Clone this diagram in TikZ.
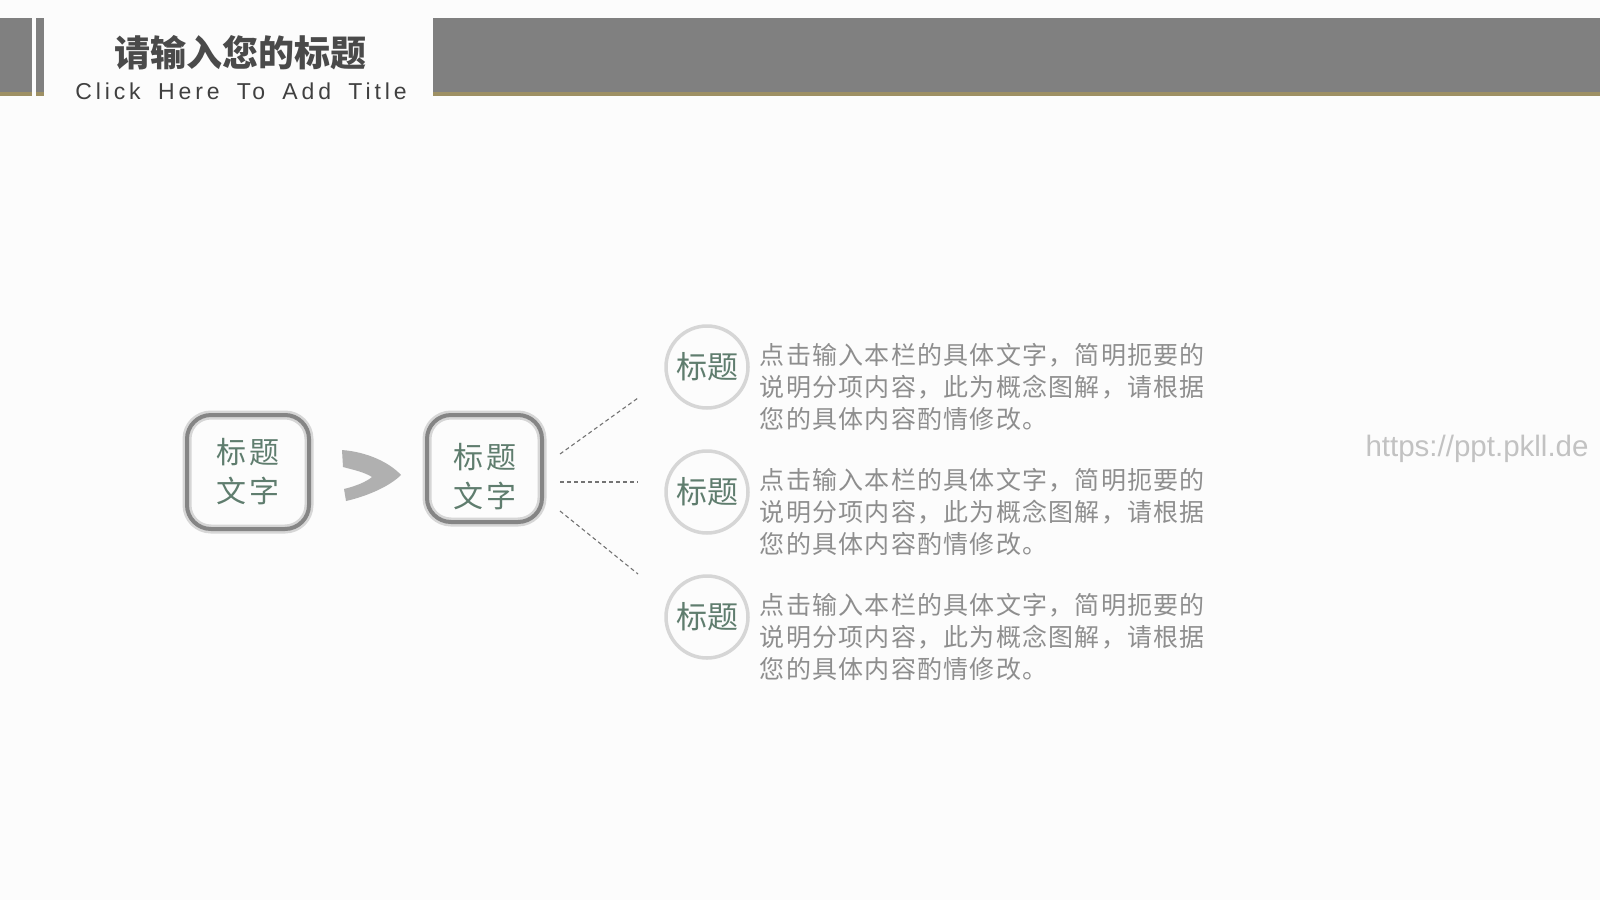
\documentclass[tikz,border=0pt]{standalone}
\usepackage{fontspec}
\setmainfont{Liberation Sans}
\newfontfamily\cjk{Noto Sans CJK SC}
\newfontfamily\cjkbody[LetterSpace=5]{Noto Sans CJK SC}
\newfontfamily\cjkbox[LetterSpace=10]{Noto Sans CJK SC}
\newfontfamily\entitle[LetterSpace=17]{Liberation Sans}
\usetikzlibrary{positioning}

\definecolor{bargray}{HTML}{808080}
\definecolor{bargold}{HTML}{9E9064}
\definecolor{titlegray}{HTML}{4A4A4A}
\definecolor{inkgreen}{HTML}{5F7D6E}
\definecolor{bodygray}{HTML}{8E8E8E}
\definecolor{pagebg}{HTML}{FCFCFC}

\begin{document}
\begin{tikzpicture}[x=1pt, y=-1pt]
		\tikzset {node distance=40pt,
			brushbox/.style={draw=black!48, line width=4pt, rounded corners=24pt, inner sep=0pt,
				preaction={draw=black!16, line width=9pt},
				font=\cjkbox\fontsize{30}{39}\selectfont, text=inkgreen, align=center},
			ring/.style={circle, draw=black!16, line width=3.5pt, minimum size=82pt, inner sep=1pt,
				font=\cjk\fontsize{31}{31}\selectfont, text=inkgreen},
			para/.style={inner sep=0pt, align=left, text=bodygray,
				font=\cjkbody\fontsize{25}{31.6}\selectfont},
			dashline/.style={draw=black!55, line width=1.1pt, dash pattern=on 4pt off 3pt} }

		% page and header
		\fill[pagebg] (0,0) rectangle (1600,900);
		\useasboundingbox (0,0) rectangle (1600,900);
		\fill[bargray] (0,18) rectangle (32,96);
		\fill[bargray] (36,18) rectangle (44,96);
		\fill[bargray] (433,18) rectangle (1600,96);
		\fill[bargold] (0,92) rectangle (32,96);
		\fill[bargold] (36,92) rectangle (44,96);
		\fill[bargold] (433,92) rectangle (1600,96);

		\node[text=titlegray, font=\cjk\bfseries\fontsize{36}{36}\selectfont] (title) at (240,53) {请输入您的标题};
		\node[text=black!75, font=\entitle\fontsize{23}{23}\selectfont] (subtitle) at (241,91.5) {Click\hspace{7pt} Here\hspace{7pt} To\hspace{7pt} Add\hspace{7pt} Title};

		% left part
		\node[brushbox, minimum width=122pt, minimum height=114pt] (box1) at (248,472) {标题\\文字};
		\node[brushbox, minimum width=115pt, minimum height=107pt, right=114pt of box1, yshift=3.5pt] (box2) {\rule{0pt}{42pt}标题\\文字};

		\fill[black!38, opacity=0.8] (342,450) .. controls (368,452) and (390,463) .. (401,475)
			.. controls (390,486) and (368,496) .. (346,501) -- (344,489)
			.. controls (356,486) and (366,482) .. (372,477)
			.. controls (364,472) and (354,470) .. (343,467) -- cycle;

		% circles and texts
		\node[ring] (c1) at (707,367) {标题};
		\node[ring, below=39.5pt of c1] (c2) {标题};
		\node[ring, below=39.5pt of c2] (c3) {标题};

		\node[para, right=10pt of c1, yshift=-20pt] (t1) {点击输入本栏的具体文字，简明扼要的\\说明分项内容，此为概念图解，请根据\\您的具体内容酌情修改。};
		\node[para, right=10pt of c2, yshift=-20pt] (t2) {点击输入本栏的具体文字，简明扼要的\\说明分项内容，此为概念图解，请根据\\您的具体内容酌情修改。};
		\node[para, right=10pt of c3, yshift=-20pt] (t3) {点击输入本栏的具体文字，简明扼要的\\说明分项内容，此为概念图解，请根据\\您的具体内容酌情修改。};

		% dashed links
		\coordinate (s1) at (560,454);
		\coordinate (s2) at (560,482);
		\coordinate (s3) at (560,511);
		\coordinate (e1) at (638,398);
		\coordinate (e2) at (638,482);
		\coordinate (e3) at (638,574);
		\draw[dashline] (s1) -- (e1);
		\draw[dashline] (s2) -- (e2);
		\draw[dashline] (s3) -- (e3);

		\node[text=black!24, font=\fontsize{29.5}{29.5}\selectfont] (url) at (1477,449) {https://ppt.pkll.de};
	\end{tikzpicture}
\end{document}
